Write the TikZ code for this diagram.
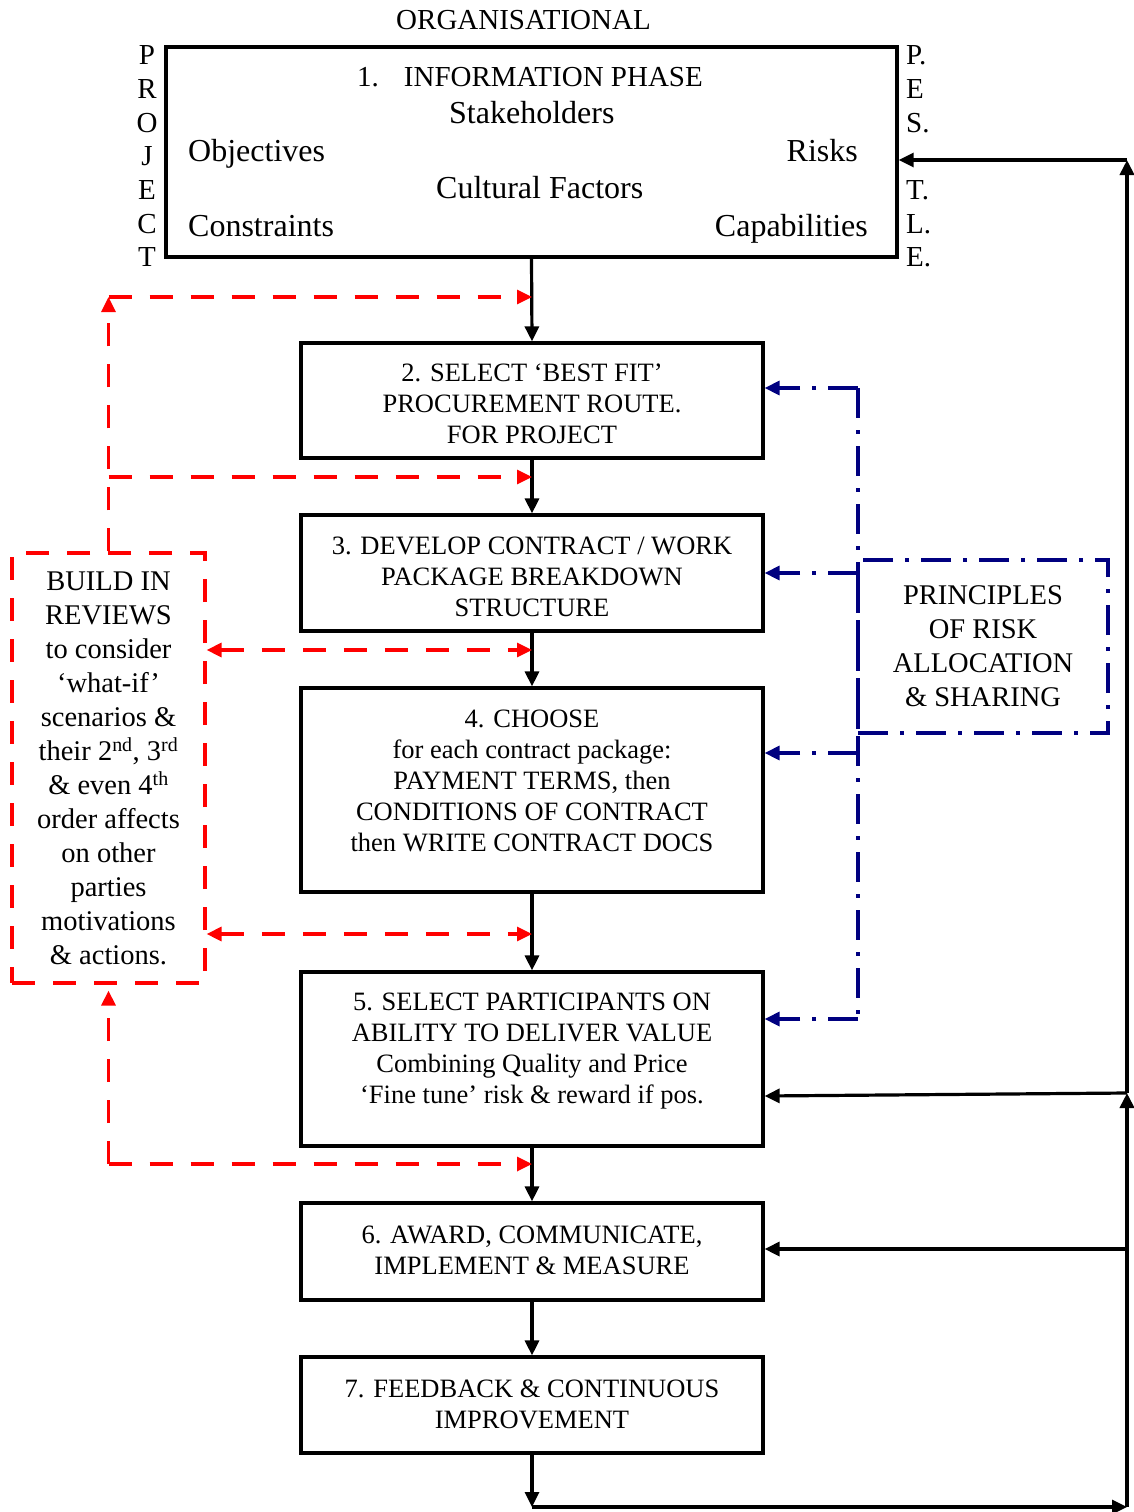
\documentclass[tikz,border=0pt]{standalone}
\usepackage{fontspec}
\setmainfont{Liberation Serif}
\usetikzlibrary{arrows.meta}

\begin{document}
\begin{tikzpicture}[x=1pt,y=-1pt,
  tip/.style={-{Triangle[length=15pt,width=14pt]}},
  bothtips/.style={{Triangle[length=15pt,width=14pt]}-{Triangle[length=15pt,width=14pt]}},
  blk/.style={line width=3.2pt,black},
  flowbox/.style={draw,line width=3.2pt,minimum width=462pt,inner sep=0pt},
  flowtext/.style={align=center,font=\fontsize{26.5}{31}\selectfont,inner sep=0pt},
  bigtext/.style={font=\fontsize{32}{38}\selectfont,inner sep=0pt},
  side/.style={font=\fontsize{29}{34}\selectfont,inner sep=0pt},
  reddash/.style={draw=red,line width=3.2pt,dash pattern=on 23pt off 18pt},
  bluedd/.style={draw=blue!50!black,line width=3.2pt,dash pattern=on 30pt off 12pt on 4pt off 12pt},
]
\useasboundingbox (0,0) rectangle (1134,1512);

% ---- information phase box with its surrounding labels ----
\node[draw,line width=3.4pt,minimum width=731pt,minimum height=210pt,inner sep=0pt] (b1) at (531.5,152) {};
\node[side,anchor=base] (org) at (523.5,30) {ORGANISATIONAL};
\node[font=\fontsize{29}{34}\selectfont,inner sep=0pt,anchor=base west] (t1a) at (357,86.7) {1.\hspace{25pt}INFORMATION PHASE};
\node[bigtext,anchor=base west] (t1b) at (449,123) {Stakeholders};
\node[bigtext,anchor=base west] (t1c) at (188,161) {Objectives};
\node[bigtext,anchor=base east] (t1d) at (858,161) {Risks};
\node[bigtext,anchor=base west] (t1e) at (436,198) {Cultural Factors};
\node[bigtext,anchor=base west] (t1f) at (188,236) {Constraints};
\node[bigtext,anchor=base east] (t1g) at (868,236) {Capabilities};
\foreach \l [count=\i] in {P,R,O,J,E,C,T}
  \node[side,anchor=base] (pj\i) at (147,{65+33.65*(\i-1)}) {\l};
\foreach \l/\k in {P./0,E/1,S./2,T./4,L./5,E./6}
  \node[side,anchor=base west] (pe\k) at (906,{65+33.65*\k}) {\l};

% ---- main sequence of steps ----
\node[flowbox,minimum height=115pt] (b2) at (532,400.5) {};
\node[flowtext] (t2) at (532,404) {2. SELECT ‘BEST FIT’\\PROCUREMENT ROUTE.\\FOR PROJECT};
\node[flowbox,minimum height=116pt] (b3) at (532,573) {};
\node[flowtext] (t3) at (532,577) {3. DEVELOP CONTRACT / WORK\\PACKAGE BREAKDOWN\\STRUCTURE};
\node[flowbox,minimum height=204pt] (b4) at (532,790) {};
\node[flowtext] (t4) at (532,781) {4. CHOOSE\\for each contract package:\\PAYMENT TERMS, then\\CONDITIONS OF CONTRACT\\then WRITE CONTRACT DOCS};
\node[flowbox,minimum height=174pt] (b5) at (532,1059) {};
\node[flowtext] (t5) at (532,1051) {5. SELECT PARTICIPANTS ON\\ABILITY TO DELIVER VALUE\\Combining Quality and Price\\‘Fine tune’ risk \& reward if pos.};
\node[flowbox,minimum height=97pt] (b6) at (532,1251.5) {};
\node[flowtext] (t6) at (532,1250) {6. AWARD, COMMUNICATE,\\IMPLEMENT \& MEASURE};
\node[flowbox,minimum height=96pt] (b7) at (532,1405) {};
\node[flowtext] (t7) at (532,1404) {7. FEEDBACK \& CONTINUOUS\\IMPROVEMENT};

\draw[blk,tip] (b1.south) -- (b2.north);
\draw[blk,tip] (b2.south) -- (b3.north);
\draw[blk,tip] (b3.south) -- (b4.north);
\draw[blk,tip] (b4.south) -- (b5.north);
\draw[blk,tip] (b5.south) -- (b6.north);
\draw[blk,tip] (b6.south) -- (b7.north);

% ---- feedback loop on the right ----
\coordinate (fb1) at (532,1507);
\coordinate (fb2) at (1127,1507);
\coordinate (fb3) at (1127,1093);
\coordinate (fb4) at (1127,160);
\coordinate (fb5) at (1127,1249);
\draw[blk,tip] (b7.south) -- (fb1);
\draw[blk,tip] (fb1) -- (fb2);
\draw[line width=3.8pt,tip] (fb2) -- (fb3);
\draw[line width=3.8pt,tip] (fb3) -- (fb4);
\draw[blk,tip] (fb4) -- (b1.east |- fb4);
\draw[blk,tip] (fb3) -- (b5.east |- 0,1096);
\draw[blk,tip] (fb5) -- (b6.east |- fb5);

% ---- reviews box and its dashed links ----
\node[reddash,minimum width=193pt,minimum height=430pt,inner sep=0pt,align=center,
      font=\fontsize{28.5}{34}\selectfont] (rb) at (108.5,768)
  {BUILD IN\\REVIEWS\\to consider\\‘what-if’\\scenarios \&\\their 2\textsuperscript{nd}, 3\textsuperscript{rd}\\\& even 4\textsuperscript{th}\\order affects\\on other\\parties\\motivations\\\& actions.};
\coordinate (r1) at (108.5,297);
\coordinate (r2) at (108.5,477);
\coordinate (r3) at (108.5,1164);
\draw[reddash,tip] (rb.north) -- (r1);
\draw[reddash,tip] (r1) -- (b2.north |- r1);
\draw[reddash,tip] (r2) -- (b3.north |- r2);
\draw[reddash,bothtips] (rb.east |- 0,650) -- (b3.south |- 0,650);
\draw[reddash,bothtips] (rb.east |- 0,934) -- (b4.south |- 0,934);
\draw[reddash,tip,shorten >=6pt] (r3) -- (rb.south);
\draw[reddash,tip] (r3) -- (b5.south |- r3);

% ---- risk principles box and its dash-dot links ----
\node[bluedd,minimum width=250pt,minimum height=173pt,inner sep=0pt,align=center,
      font=\fontsize{28.5}{34}\selectfont] (pb) at (983,646.5)
  {PRINCIPLES\\OF RISK\\ALLOCATION\\\& SHARING};
\coordinate (bt) at (858,388);
\coordinate (bb) at (858,1019);
\draw[bluedd] (bt) -- (bb);
\draw[bluedd,tip] (bt) -- (b2.east |- bt);
\draw[bluedd,tip] (858,573) -- (b3.east |- 0,573);
\draw[bluedd,tip] (858,753) -- (b4.east |- 0,753);
\draw[bluedd,tip] (bb) -- (b5.east |- bb);
\end{tikzpicture}
\end{document}
